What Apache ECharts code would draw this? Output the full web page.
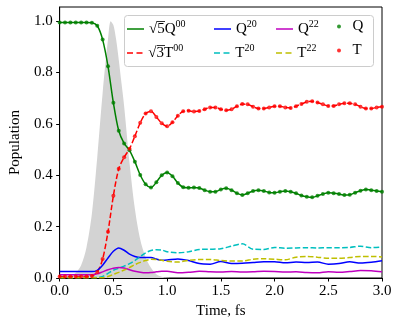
<!DOCTYPE html>
<html>
<head>
<meta charset="utf-8">
<script src="https://cdn.jsdelivr.net/npm/echarts@6/dist/echarts.min.js"></script>
<style>
  html, body { margin: 0; padding: 0; background: #fff; }
  #chart { width: 399px; height: 325px; }
</style>
</head>
<body>
<div id="chart"></div>
<script>
// time grid of the dotted Q / T curves (fs)
const tQ = [0, 0.05, 0.1, 0.15, 0.2, 0.25, 0.3, 0.35, 0.4, 0.45, 0.5, 0.55, 0.6, 0.65, 0.7, 0.75, 0.8, 0.85, 0.9, 0.95,
  1, 1.05, 1.1, 1.15, 1.2, 1.25, 1.3, 1.35, 1.4, 1.45, 1.5, 1.55, 1.6, 1.65, 1.7, 1.75, 1.8, 1.85, 1.9, 1.95,
  2, 2.05, 2.1, 2.15, 2.2, 2.25, 2.3, 2.35, 2.4, 2.45, 2.5, 2.55, 2.6, 2.65, 2.7, 2.75, 2.8, 2.85, 2.9, 2.95, 3];

const q00 = [0.995, 0.995, 0.995, 0.995, 0.995, 0.995, 0.994, 0.982, 0.928, 0.824, 0.682, 0.573, 0.524, 0.497, 0.453, 0.401, 0.365, 0.352, 0.373, 0.400,
  0.411, 0.396, 0.370, 0.353, 0.351, 0.352, 0.350, 0.342, 0.336, 0.336, 0.345, 0.349, 0.342, 0.330, 0.323, 0.330, 0.339, 0.342, 0.339, 0.333,
  0.332, 0.336, 0.339, 0.336, 0.330, 0.321, 0.316, 0.314, 0.320, 0.327, 0.332, 0.330, 0.327, 0.323, 0.324, 0.332, 0.340, 0.345, 0.342, 0.339, 0.336];

const t00 = [0.006, 0.006, 0.006, 0.006, 0.006, 0.006, 0.008, 0.023, 0.074, 0.180, 0.320, 0.425, 0.470, 0.503, 0.552, 0.604, 0.640, 0.649, 0.627, 0.602,
  0.591, 0.606, 0.632, 0.649, 0.651, 0.648, 0.650, 0.657, 0.664, 0.664, 0.657, 0.653, 0.657, 0.669, 0.677, 0.676, 0.667, 0.660, 0.660, 0.664,
  0.669, 0.669, 0.664, 0.662, 0.669, 0.677, 0.686, 0.688, 0.683, 0.676, 0.670, 0.670, 0.676, 0.680, 0.680, 0.676, 0.667, 0.660, 0.660, 0.664, 0.667];

// coarser grid for the small components
const tS = [0, 0.05, 0.1, 0.15, 0.2, 0.25, 0.3, 0.35, 0.4, 0.45, 0.5, 0.55, 0.6, 0.65, 0.7, 0.75, 0.8, 0.85, 0.9, 0.95, 1,
  1.1, 1.2, 1.3, 1.4, 1.5, 1.6, 1.7, 1.8, 1.9, 2, 2.1, 2.2, 2.3, 2.4, 2.5, 2.6, 2.7, 2.8, 2.9, 3];

const q20 = [0.025, 0.025, 0.025, 0.025, 0.025, 0.025, 0.025, 0.030, 0.050, 0.078, 0.104, 0.117, 0.108, 0.093, 0.084, 0.080, 0.080, 0.080, 0.074, 0.069, 0.070,
  0.074, 0.068, 0.056, 0.054, 0.064, 0.056, 0.057, 0.060, 0.063, 0.063, 0.059, 0.062, 0.060, 0.062, 0.054, 0.056, 0.063, 0.058, 0.061, 0.067];
const t20 = [0.002, 0.002, 0.002, 0.002, 0.002, 0.002, 0.002, 0.002, 0.006, 0.018, 0.030, 0.038, 0.046, 0.056, 0.068, 0.083, 0.098, 0.107, 0.110, 0.109, 0.102,
  0.098, 0.102, 0.111, 0.112, 0.114, 0.124, 0.133, 0.112, 0.111, 0.119, 0.116, 0.117, 0.118, 0.117, 0.118, 0.118, 0.119, 0.124, 0.118, 0.121];
const q22 = [0.013, 0.013, 0.013, 0.013, 0.013, 0.013, 0.013, 0.016, 0.024, 0.032, 0.038, 0.041, 0.039, 0.032, 0.026, 0.022, 0.020, 0.021, 0.024, 0.026, 0.026,
  0.020, 0.022, 0.026, 0.024, 0.023, 0.025, 0.023, 0.024, 0.026, 0.025, 0.023, 0.024, 0.021, 0.020, 0.024, 0.022, 0.025, 0.029, 0.028, 0.024];
const t22 = [0.001, 0.001, 0.001, 0.001, 0.001, 0.001, 0.001, 0.001, 0.001, 0.006, 0.014, 0.022, 0.031, 0.041, 0.052, 0.061, 0.068, 0.073, 0.072, 0.069, 0.065,
  0.062, 0.069, 0.072, 0.072, 0.068, 0.066, 0.066, 0.073, 0.075, 0.073, 0.071, 0.081, 0.084, 0.081, 0.077, 0.077, 0.080, 0.084, 0.084, 0.082];

// pulse envelope (grey)
const tPulse = [0, 0.05, 0.1, 0.15, 0.2, 0.25, 0.3, 0.35, 0.4, 0.45, 0.475, 0.5, 0.525, 0.55, 0.575, 0.6, 0.65, 0.7, 0.75, 0.8, 0.85, 0.9, 0.95, 1.0, 1.05];
const pulse = [0, 0.001, 0.005, 0.02, 0.05, 0.12, 0.25, 0.47, 0.72, 0.93, 1.0, 0.985, 0.93, 0.85, 0.76, 0.67, 0.45, 0.27, 0.15, 0.08, 0.04, 0.015, 0.005, 0.001, 0];

const xTicks = [0, 0.5, 1, 1.5, 2, 2.5, 3];
const yTicks = [0, 0.2, 0.4, 0.6, 0.8, 1.0];

const zip = (xs, ys) => xs.map((x, i) => [x, ys[i]]);

const FONT = 'Liberation Serif';
const dash = [5.5, 2.4];

const labels = {
  'sQ00': '{n|√5Q}{s|00}',
  'sT00': '{n|√3T}{s|00}',
  'Q20': '{n|Q}{s|20}',
  'T20': '{n|T}{s|20}',
  'Q22': '{n|Q}{s|22}',
  'T22': '{n|T}{s|22}',
  'Q': '{n|Q}',
  'T': '{n|T}'
};

const SOLID_ICON = 'path://M0,0h17v1.5h-17z';
const DASH_ICON = 'path://M0,0h6v1.5h-6z M9.5,0h6v1.5h-6z';

const ROW1 = 29, ROW2 = 53;

// legend slots: [name, icon left x, row centre y, icon]
const legendSlots = [
  ['sQ00', 127, ROW1, SOLID_ICON], ['sT00', 127, ROW2, DASH_ICON],
  ['Q20', 214, ROW1, SOLID_ICON], ['T20', 214, ROW2, DASH_ICON],
  ['Q22', 276, ROW1, SOLID_ICON], ['T22', 276, ROW2, DASH_ICON],
  ['Q', 337, ROW1, 'circle'], ['T', 337, ROW2, 'circle']
];

const legends = legendSlots.map(s => ({
  data: [{ name: s[0], icon: s[3] }],
  left: s[1],
  top: s[2] - 10,
  padding: 0,
  itemWidth: 17,
  itemHeight: s[3] === 'circle' ? 4 : 1.5,
  itemGap: 0,
  selectedMode: false,
  z: 20,
  itemStyle: { borderWidth: 0 },
  formatter: n => labels[n],
  textStyle: {
    rich: {
      n: { fontFamily: FONT, fontSize: 15, color: '#000', lineHeight: 20, verticalAlign: 'middle' },
      s: { fontFamily: FONT, fontSize: 10, color: '#000', lineHeight: 10, verticalAlign: 'top' }
    }
  }
}));

function lineSeries(name, xs, ys, color, dashed) {
  return {
    name: name,
    type: 'line',
    data: zip(xs, ys),
    smooth: 0.3,
    symbol: 'none',
    showSymbol: false,
    lineStyle: { color: color, width: 1.5, type: dashed ? dash : 'solid' },
    itemStyle: { color: color },
    z: 3
  };
}

function dotSeries(name, xs, ys, color) {
  return {
    name: name,
    type: 'scatter',
    data: zip(xs, ys),
    symbol: 'circle',
    symbolSize: 4,
    itemStyle: { color: color },
    z: 5
  };
}

const chart = echarts.init(document.getElementById('chart'), null, { renderer: 'canvas' });

chart.setOption({
  animation: false,
  backgroundColor: '#fff',
  grid: { left: 53, top: 7, width: 329, height: 271, show: true, borderColor: '#000', borderWidth: 1, backgroundColor: 'transparent' },
  legend: legends,
  graphic: [
    {
      type: 'rect',
      z: 10,
      shape: { x: 124.5, y: 15.5, width: 249, height: 51, r: 3 },
      style: { fill: 'rgba(255,255,255,0.8)', stroke: '#cccccc', lineWidth: 1 }
    },
    // radical bars over the 5 and the 3
    { type: 'line', z: 30, shape: { x1: 157, y1: ROW1 - 7.5, x2: 165, y2: ROW1 - 7.5 }, style: { stroke: '#000', lineWidth: 0.8 } },
    { type: 'line', z: 30, shape: { x1: 157, y1: ROW2 - 7.5, x2: 165, y2: ROW2 - 7.5 }, style: { stroke: '#000', lineWidth: 0.8 } }
  ],
  xAxis: {
    type: 'value',
    min: 0,
    max: 3,
    interval: 0.5,
    name: 'Time, fs',
    nameLocation: 'middle',
    nameGap: 23,
    nameTextStyle: { fontFamily: FONT, fontSize: 15, color: '#000' },
    axisLine: { lineStyle: { color: '#000', width: 1 } },
    axisTick: { inside: false, length: 3.5, lineStyle: { color: '#000' }, customValues: xTicks },
    axisLabel: { fontFamily: FONT, fontSize: 15, color: '#000', margin: 6, customValues: xTicks, formatter: v => v.toFixed(1) },
    splitLine: { show: false }
  },
  yAxis: {
    type: 'value',
    min: 0,
    max: 1.055,
    interval: 0.2,
    name: 'Population',
    nameLocation: 'middle',
    nameGap: 32,
    nameTextStyle: { fontFamily: FONT, fontSize: 15, color: '#000' },
    axisLine: { show: true, lineStyle: { color: '#000', width: 1 } },
    axisTick: { show: true, inside: false, length: 3.5, lineStyle: { color: '#000' }, customValues: yTicks },
    axisLabel: { fontFamily: FONT, fontSize: 15, color: '#000', margin: 7, customValues: yTicks, formatter: v => v.toFixed(1) },
    splitLine: { show: false }
  },
  series: [
    {
      name: 'pulse',
      type: 'line',
      data: zip(tPulse, pulse),
      smooth: 0.3,
      symbol: 'none',
      showSymbol: false,
      lineStyle: { width: 0 },
      areaStyle: { color: '#d3d3d3', opacity: 1 },
      z: 1
    },
    lineSeries('sQ00', tQ, q00, '#008000', false),
    lineSeries('sT00', tQ, t00, '#ff0000', true),
    lineSeries('Q20', tS, q20, '#0000ff', false),
    lineSeries('T20', tS, t20, '#00bfbf', true),
    lineSeries('Q22', tS, q22, '#bf00bf', false),
    lineSeries('T22', tS, t22, '#bfbf00', true),
    dotSeries('Q', tQ, q00, '#008000'),
    dotSeries('T', tQ, t00, '#ff0000')
  ]
});
</script>
</body>
</html>
